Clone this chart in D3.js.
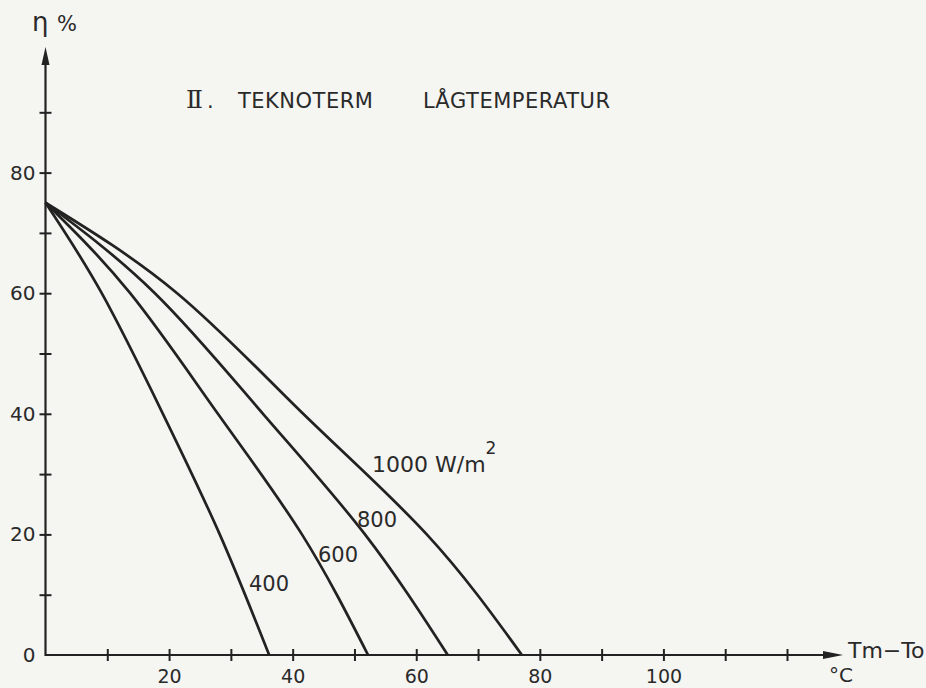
<!DOCTYPE html>
<html>
<head>
<meta charset="utf-8">
<script src="https://cdn.jsdelivr.net/npm/d3@7"></script>
<style>
  html, body { margin: 0; padding: 0; background: #f5f5f2; }
  svg { display: block; }
  text { font-family: "DejaVu Sans", sans-serif; fill: #2a2a2a; }
</style>
</head>
<body>
<svg id="chart" width="926" height="688"></svg>
<script>
// ---- data ----
const etaLevels = [75, 60, 40, 20, 0];            // efficiency η % at which positions were read
const series = ["400", "600", "800", "1000"];      // irradiance W/m²
const dT400  = [0, 9.1, 19.0, 28.2, 36.2];         // Tm-To °C
const dT600  = [0, 13.7, 27.9, 41.5, 52.2];
const dT800  = [0, 17.7, 35.2, 51.7, 65.1];
const dT1000 = [0, 21.3, 41.7, 61.7, 77.1];
const xTicks = [10, 20, 30, 40, 50, 60, 70, 80, 90, 100, 110, 120];
const xTickLabels = [20, 40, 60, 80, 100];
const yTicks = [10, 20, 30, 40, 50, 60, 70, 80, 90];
const yTickLabels = [0, 20, 40, 60, 80];

const svg = d3.select("#chart");
const ink = "#222";

const x = d3.scaleLinear().domain([0, 120]).range([45.5, 787]);
const y = d3.scaleLinear().domain([0, 90]).range([655, 112.3]);

// ---- axes ----
const xAxis = svg.append("g").attr("transform", `translate(0,${y(0)})`)
  .call(d3.axisBottom(x).tickValues(xTicks).tickSize(6)
    .tickFormat(d => xTickLabels.includes(d) ? d : ""));
xAxis.select(".domain").remove();
xAxis.selectAll(".tick line").attr("y1", -6).attr("stroke", ink).attr("stroke-width", 2);
xAxis.selectAll(".tick text").attr("y", 15).style("font-size", "19px")
  .style("font-family", "DejaVu Sans, sans-serif").attr("fill", "#333");

const yAxis = svg.append("g").attr("transform", `translate(${x(0)},0)`)
  .call(d3.axisLeft(y).tickValues(yTicks.concat([0])).tickSize(6)
    .tickFormat(d => yTickLabels.includes(d) ? d : ""));
yAxis.select(".domain").remove();
yAxis.selectAll(".tick line").attr("x1", d => d === 0 ? 0 : 6).attr("x2", d => d === 0 ? 0 : -6)
  .attr("stroke", ink).attr("stroke-width", 2);
yAxis.selectAll(".tick text").attr("x", -10).style("font-size", "20px")
  .style("font-family", "DejaVu Sans, sans-serif").attr("fill", "#333");

// axis lines with arrows
const xEnd = 843, yEnd = 47;
svg.append("line").attr("x1", x(0)).attr("y1", y(0)).attr("x2", xEnd - 10).attr("y2", y(0))
  .attr("stroke", ink).attr("stroke-width", 2.2);
svg.append("path").attr("d", `M${xEnd},${y(0)} L${xEnd - 20},${y(0) - 4} L${xEnd - 20},${y(0) + 4} Z`).attr("fill", ink);
svg.append("line").attr("x1", x(0)).attr("y1", y(0) + 1).attr("x2", x(0)).attr("y2", yEnd + 10)
  .attr("stroke", ink).attr("stroke-width", 2.2);
svg.append("path").attr("d", `M${x(0)},${yEnd} L${x(0) - 4},${yEnd + 18} L${x(0) + 4},${yEnd + 18} Z`).attr("fill", ink);

// axis titles
svg.append("text").attr("x", 32).attr("y", 31).style("font-size", "26px").text("η");
svg.append("text").attr("x", 57).attr("y", 31).style("font-size", "21px").text("%");
svg.append("text").attr("x", 848).attr("y", 658).style("font-size", "22px").text("Tm−To");
svg.append("text").attr("x", 829).attr("y", 682).style("font-size", "20px").text("°C");

// title
svg.append("text").attr("x", 186).attr("y", 108).style("font-family", "DejaVu Serif, serif")
  .style("font-size", "25px").text("Ⅱ");
svg.append("text").attr("x", 207).attr("y", 108).style("font-size", "21px").text(".");
svg.append("text").attr("x", 238).attr("y", 108).style("font-size", "21px")
  .style("letter-spacing", "0.5px").text("TEKNOTERM");
svg.append("text").attr("x", 423).attr("y", 108).style("font-size", "21px")
  .style("letter-spacing", "0.5px").text("LÅGTEMPERATUR");

// ---- curves ----
const allSeries = [dT400, dT600, dT800, dT1000];
const line = d3.line().x(d => x(d[0])).y(d => y(d[1])).curve(d3.curveNatural);
allSeries.forEach(arr => {
  const pts = arr.map((v, i) => [v, etaLevels[i]]);
  svg.append("path").attr("d", line(pts)).attr("fill", "none")
    .attr("stroke", ink).attr("stroke-width", 2.7);
});

// curve labels
svg.append("text").attr("x", 249).attr("y", 591).style("font-size", "21px").text(series[0]);
svg.append("text").attr("x", 318).attr("y", 562).style("font-size", "21px").text(series[1]);
svg.append("text").attr("x", 357).attr("y", 527).style("font-size", "21px").text(series[2]);
const l1000 = svg.append("text").attr("x", 372).attr("y", 472).style("font-size", "22px");
l1000.append("tspan").text(series[3] + " W/m");
l1000.append("tspan").attr("dy", -18).style("font-size", "17px").text("2");
</script>
</body>
</html>
